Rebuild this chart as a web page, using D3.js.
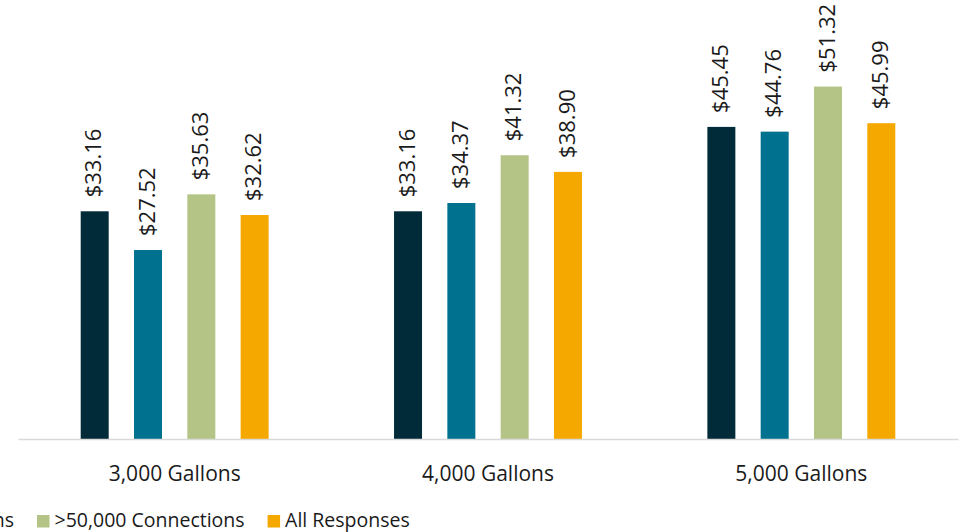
<!DOCTYPE html>
<html>
<head>
<meta charset="utf-8">
<script src="https://cdn.jsdelivr.net/npm/d3@7"></script>
<style>
  html, body { margin: 0; padding: 0; background: #fff; }
  svg { display: block; font-family: "Open Sans", sans-serif; }
</style>
</head>
<body>
<svg id="chart" width="961" height="532"></svg>
<script>
// data
var categories = ["3,000 Gallons", "4,000 Gallons", "5,000 Gallons"];
var seriesNames = ["<10,000 Connections", "10,000\u201350,000 Connections", ">50,000 Connections", "All Responses"];
var seriesColors = ["#022b3a", "#00728f", "#b3c486", "#f5a800"];
var small = [33.16, 33.16, 45.45];
var medium = [27.52, 34.37, 44.76];
var large = [35.63, 41.32, 51.32];
var allResponses = [32.62, 38.90, 45.99];

var seriesValues = [small, medium, large, allResponses];

var margin = { left: 18, right: 3, top: 27, bottom: 93 },
    width = 961,
    height = 532,
    baseline = height - margin.bottom - 0;

var svg = d3.select('#chart');

var x0 = d3.scaleBand()
    .domain(categories)
    .range([margin.left, width - margin.right])
    .padding(0);

var gap = 62.7;
var x1 = d3.scaleBand()
    .domain(seriesNames)
    .range([gap, x0.bandwidth() - gap])
    .paddingInner(0.475)
    .paddingOuter(0);

var y = d3.scaleLinear()
    .domain([0, 60])
    .range([439, 27]);

var rows = categories.map(function(c, i) {
    return {
        key: c,
        values: seriesNames.map(function(s, j) {
            return { series: s, color: seriesColors[j], value: seriesValues[j][i] };
        })
    };
});

var groups = svg.selectAll('.group')
    .data(rows)
    .enter()
    .append('g')
    .attr('class', 'group')
    .attr('transform', function(d) { return 'translate(' + x0(d.key) + ',0)'; });

groups.selectAll('rect')
    .data(function(d) { return d.values; })
    .enter()
    .append('rect')
    .attr('x', function(d) { return x1(d.series); })
    .attr('width', x1.bandwidth())
    .attr('y', function(d) { return y(d.value); })
    .attr('height', function(d) { return y(0) - y(d.value); })
    .style('fill', function(d) { return d.color; });

groups.selectAll('.value')
    .data(function(d) { return d.values; })
    .enter()
    .append('text')
    .attr('class', 'value')
    .attr('transform', function(d) {
        return 'translate(' + (x1(d.series) + x1.bandwidth() / 2) + ',' + (y(d.value) - 14) + ') rotate(-90)';
    })
    .attr('dy', '0.3em')
    .style('font-size', '22px')
    .style('fill', '#1a1a1a')
    .text(function(d) { return '$' + d.value.toFixed(2); });

// x axis
var xAxis = d3.axisBottom(x0).tickSize(0).tickPadding(0);
var xAxisG = svg.append('g')
    .attr('transform', 'translate(0,' + y(0) + ')')
    .call(xAxis);

xAxisG.select('.domain')
    .attr('stroke', '#d9d9d9')
    .attr('stroke-width', 1.5);

xAxisG.selectAll('.tick text')
    .attr('y', 42)
    .attr('dy', 0)
    .style('font-family', '"Open Sans", sans-serif')
    .style('font-size', '21px')
    .style('fill', '#1a1a1a');

// legend (the left part runs off the canvas, as in the picture)
var legend = svg.append('g').attr('class', 'legend');
var items = legend.selectAll('.item')
    .data(seriesNames)
    .enter()
    .append('g')
    .attr('class', 'item');

items.append('rect')
    .attr('width', 12.5)
    .attr('height', 12.5)
    .attr('y', 515)
    .style('fill', function(d, i) { return seriesColors[i]; });

items.append('text')
    .attr('x', 17.5)
    .attr('y', 527)
    .style('font-size', '19.5px')
    .style('fill', '#1a1a1a')
    .text(function(d) { return d; });

var offsets = [], pos = 0;
items.each(function(d, i) {
    offsets.push(pos);
    var w = d3.select(this).select('text').node().getComputedTextLength();
    pos += 17.5 + w + 23;
});
items.attr('transform', function(d, i) { return 'translate(' + offsets[i] + ',0)'; });
legend.attr('transform', 'translate(' + (37 - offsets[2]) + ',0)');
</script>
</body>
</html>
